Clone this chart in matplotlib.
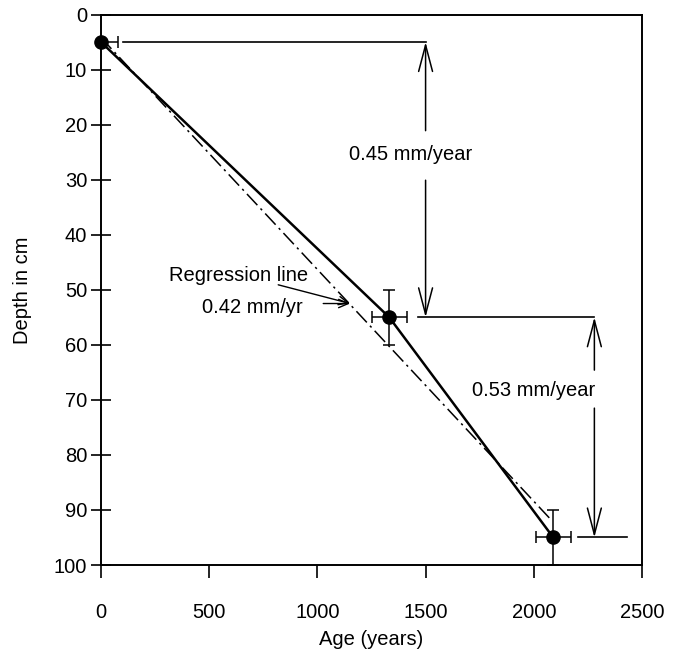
import matplotlib
matplotlib.use("Agg")
import matplotlib.pyplot as plt

plt.rcParams['font.family'] = ['Liberation Sans', 'DejaVu Sans']

# Dated core samples: age (years) vs depth (cm)
ages = [0, 1332, 2090]
depths = [5, 55, 95]
age_err_left = [0, 80, 80]
age_err_right = [80, 80, 80]
depth_err = [0, 5, 5]

# Regression line end points
reg_age = [0, 2085]
reg_depth = [4.2, 92.0]

# Rate brackets: (x of vertical arrow, top depth, bottom depth)
rate_labels = ['0.45 mm/year', '0.53 mm/year']
bracket_x = [1500, 2280]
bracket_top = [5, 55]
bracket_bottom = [55, 95]
gap_top = [21.1, 64.6]
gap_bottom = [30.1, 71.5]
label_pos = [(1432, 25.5), (1998, 68.3)]

# Horizontal guide lines: (depth, x start, x end)
guide_depth = [5, 55, 95]
guide_start = [100, 1465, 2206]
guide_end = [1500, 2280, 2429]

fig = plt.figure(figsize=(6.81, 6.51), dpi=100)
ax = fig.add_axes([0.1483, 0.1321, 0.7944, 0.8456])

# Regression line (dash-dot)
ax.plot(reg_age, reg_depth, color='black', lw=1.1, dashes=(10, 3, 1.5, 3))

# Solid line through the samples
ax.plot(ages, depths, color='black', lw=1.8)

# Samples with error bars
ax.errorbar(ages, depths, xerr=[age_err_left, age_err_right], yerr=depth_err, fmt='o',
            color='black', ms=9.5, elinewidth=1.1, capsize=4, capthick=1.1,
            clip_on=False, zorder=5)

# Guide lines
for d, x0, x1 in zip(guide_depth, guide_start, guide_end):
    ax.plot([x0, x1], [d, d], color='black', lw=1.2)

# Rate arrows, broken by their label
head = dict(arrowstyle='->,head_length=1.9,head_width=0.5', color='black', lw=1.1,
            shrinkA=0, shrinkB=0, mutation_scale=10)
for lab, x, top, bot, g0, g1, pos in zip(rate_labels, bracket_x, bracket_top,
                                           bracket_bottom, gap_top, gap_bottom, label_pos):
    ax.annotate('', xy=(x, top), xytext=(x, g0), arrowprops=head)
    ax.annotate('', xy=(x, bot), xytext=(x, g1), arrowprops=head)
    ax.text(pos[0], pos[1], lab, ha='center', va='center', fontsize=14.5)

# Regression line label with two pointers
small = dict(arrowstyle='->,head_length=0.7,head_width=0.3', color='black', lw=1.0,
             shrinkA=0, shrinkB=0, mutation_scale=10)
ax.text(638, 47.5, 'Regression line', ha='center', va='center', fontsize=14.5)
ax.text(700, 53.2, '0.42 mm/yr', ha='center', va='center', fontsize=14.5)
ax.annotate('', xy=(1151, 52.5), xytext=(819, 49.1), arrowprops=small)
ax.annotate('', xy=(1151, 52.5), xytext=(1027, 52.5), arrowprops=small)

ax.set_xlim(0, 2500)
ax.set_ylim(100, 0)
ax.set_xticks([0, 500, 1000, 1500, 2000, 2500])
ax.set_yticks(range(0, 101, 10))

for s in ax.spines.values():
    s.set_linewidth(1.4)
ax.tick_params(axis='y', direction='inout', length=14, width=1.2, labelsize=14.5, pad=3)
ax.tick_params(axis='x', direction='out', length=9, width=1.2, labelsize=14.5, pad=18)

ax.set_xlabel('Age (years)', fontsize=14.5)
ax.set_ylabel('Depth in cm', fontsize=14.5)
ax.xaxis.set_label_coords(0.5, -0.118)
ax.yaxis.set_label_coords(-0.128, 0.5)

fig.savefig('out.png', dpi=100)
